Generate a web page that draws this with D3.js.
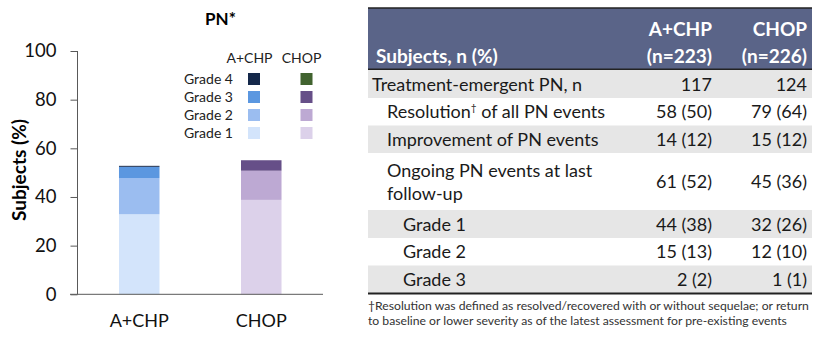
<!DOCTYPE html>
<html><head><meta charset="utf-8">
<script src="https://cdn.jsdelivr.net/npm/d3@7"></script>
<style>body{margin:0;background:#fff}svg{display:block}</style>
</head><body>
<svg id="c" width="821" height="337"></svg>
<script>
const groups = ["A+CHP", "CHOP"];
const grades = ["Grade 1", "Grade 2", "Grade 3", "Grade 4"];
const grade1 = [32.9, 38.8];
const grade2 = [14.9, 12.0];
const grade3 = [4.6, 4.3];
const grade4 = [0.4, 0.0];
const yTicks = [0, 20, 40, 60, 80, 100];
const colorsAplus = ["#d3e4fb", "#9bbdf0", "#5b97e0", "#14284a"];
const colorsChop = ["#dcd1ea", "#bda9d3", "#664f88", "#41632f"];

const tableHeader = ["Subjects, n (%)", "A+CHP", "(n=223)", "CHOP", "(n=226)"];
const rowLabels = [["Treatment-emergent PN, n"], ["Resolution\u2020 of all PN events"], ["Improvement of PN events"], ["Ongoing PN events at last", "follow-up"], ["Grade 1"], ["Grade 2"], ["Grade 3"]];
const rowIndent = [0, 1, 1, 1, 2, 2, 2];
const colAplus = ["117", "58 (50)", "14 (12)", "61 (52)", "44 (38)", "15 (13)", "2 (2)"];
const colChop = ["124", "79 (64)", "15 (12)", "45 (36)", "32 (26)", "12 (10)", "1 (1)"];
const footnote = ["\u2020Resolution was defined as resolved/recovered with or without sequelae; or return", "to baseline or lower severity as of the latest assessment for pre-existing events"];

const svg = d3.select("#c");
const F = "Lato, 'Open Sans', sans-serif";

// ---------- bar chart ----------
const y = d3.scaleLinear().domain([0, 100]).range([294.3, 51]);
const x = d3.scaleBand().domain(groups).range([77.5, 323]).paddingInner(0.668).paddingOuter(0.34);

const series = [grade1, grade2, grade3, grade4];
const stackData = groups.map((g, i) => {
  const o = {group: g};
  grades.forEach((gr, k) => o[gr] = series[k][i]);
  return o;
});
const stacked = d3.stack().keys(grades)(stackData);

const bars = svg.append("g");
stacked.forEach((layer, k) => {
  bars.selectAll(null).data(layer).enter().append("rect")
    .attr("x", d => x(d.data.group))
    .attr("width", x.bandwidth())
    .attr("y", d => y(d[1]))
    .attr("height", d => Math.max(0, y(d[0]) - y(d[1])))
    .attr("fill", d => d.data.group === "A+CHP" ? colorsAplus[k] : colorsChop[k]);
});

// axes
const yAxis = d3.axisLeft(y).tickValues(yTicks).tickSize(7).tickPadding(14);
const gy = svg.append("g").attr("transform", "translate(77.5,0)").call(yAxis);
gy.select(".domain").attr("stroke", "#595959").attr("d", "M0,51V294.3");
gy.selectAll(".tick line").attr("stroke", "#595959");
gy.selectAll("text").attr("font-family", F).attr("font-size", 18.5).attr("fill", "#111");

const xAxis = d3.axisBottom(x).tickSize(0).tickPadding(20);
const gx = svg.append("g").attr("transform", "translate(0,294.3)").call(xAxis);
gx.select(".domain").attr("stroke", "#595959").attr("d", "M70,0H323");
gx.selectAll("text").attr("font-family", F).attr("font-size", 18).attr("fill", "#111");

svg.append("text").attr("x", 220.5).attr("y", 25).attr("text-anchor", "middle")
  .attr("font-family", F).attr("font-weight", "bold").attr("font-size", 17).text("PN*");
svg.append("text").attr("transform", "translate(26,170) rotate(-90)").attr("text-anchor", "middle")
  .attr("font-family", F).attr("font-weight", "bold").attr("font-size", 19).text("Subjects (%)");

// legend
const lg = svg.append("g").attr("font-family", F).attr("font-size", 14).attr("fill", "#222");
lg.append("text").attr("x", 249.5).attr("y", 63).attr("text-anchor", "middle").text("A+CHP");
lg.append("text").attr("x", 301.5).attr("y", 63).attr("text-anchor", "middle").text("CHOP");
const legendRows = grades.slice().reverse();
legendRows.forEach((g, i) => {
  const k = grades.indexOf(g);
  const cy = 79 + i * 18;
  lg.append("text").attr("x", 233).attr("y", cy + 5).attr("text-anchor", "end").text(g);
  lg.append("rect").attr("x", 248).attr("y", cy - 6).attr("width", 12).attr("height", 12).attr("fill", colorsAplus[k]);
  lg.append("rect").attr("x", 300.5).attr("y", cy - 6).attr("width", 12).attr("height", 12).attr("fill", colorsChop[k]);
});

// ---------- table ----------
const tX0 = 368, tX1 = 812, colA = 712, colC = 807;
const t = svg.append("g").attr("font-family", F);
t.append("rect").attr("x", tX0).attr("y", 8).attr("width", tX1 - tX0).attr("height", 61).attr("fill", "#5a6488");
t.append("line").attr("x1", tX0).attr("x2", tX1).attr("y1", 8).attr("y2", 8).attr("stroke", "#222").attr("stroke-width", 1.5);
t.append("line").attr("x1", tX0).attr("x2", tX1).attr("y1", 69.5).attr("y2", 69.5).attr("stroke", "#222").attr("stroke-width", 2);
const hs = {"font-size": 19, "font-weight": "bold", fill: "#fff"};
function txt(g, s, xx, yy, anchor, attrs) {
  const e = g.append("text").attr("x", xx).attr("y", yy).attr("text-anchor", anchor).text(s);
  Object.entries(attrs).forEach(([k, v]) => e.attr(k, v));
  return e;
}
txt(t, tableHeader[0], 376, 63, "start", hs);
txt(t, tableHeader[1], colA, 36, "end", hs);
txt(t, tableHeader[2], colA, 63, "end", hs);
txt(t, tableHeader[3], colC, 36, "end", hs);
txt(t, tableHeader[4], colC, 63, "end", hs);

const rowTop = [70, 98, 125.5, 153, 210, 238, 265.5];
const rowBot = [98, 125.5, 153, 210, 238, 265.5, 293];
const indentX = [372, 387, 403];
const FS = 18;
const bs = {"font-size": FS, fill: "#1a1a1a"};
rowLabels.forEach((lab, i) => {
  if (i % 2 === 0) t.append("rect").attr("x", tX0).attr("y", rowTop[i]).attr("width", tX1 - tX0).attr("height", rowBot[i] - rowTop[i]).attr("fill", "#e6e6e6");
  const mid = (rowTop[i] + rowBot[i]) / 2;
  if (lab.length === 1) {
    const el = t.append("text").attr("x", indentX[rowIndent[i]]).attr("y", mid + 6.5).attr("font-size", FS).attr("fill", "#1a1a1a");
    if (lab[0].includes("\u2020")) {
      const parts = lab[0].split("\u2020");
      el.append("tspan").text(parts[0]);
      el.append("tspan").attr("dy", -7).attr("font-size", 10).text("\u2020");
      el.append("tspan").attr("dy", 7).text(parts[1]);
    } else el.text(lab[0]);
  } else {
    txt(t, lab[0], indentX[rowIndent[i]], mid - 5, "start", bs);
    txt(t, lab[1], indentX[rowIndent[i]], mid + 18, "start", bs);
  }
  txt(t, colAplus[i], colA, mid + 6.5, "end", bs);
  txt(t, colChop[i], colC, mid + 6.5, "end", bs);
});
t.append("line").attr("x1", tX0).attr("x2", tX1).attr("y1", 293.5).attr("y2", 293.5).attr("stroke", "#222").attr("stroke-width", 2);
footnote.forEach((s, i) => txt(t, s, 368, 310 + i * 15, "start", {"font-size": 12.2, fill: "#333"}));
</script>
</body></html>
